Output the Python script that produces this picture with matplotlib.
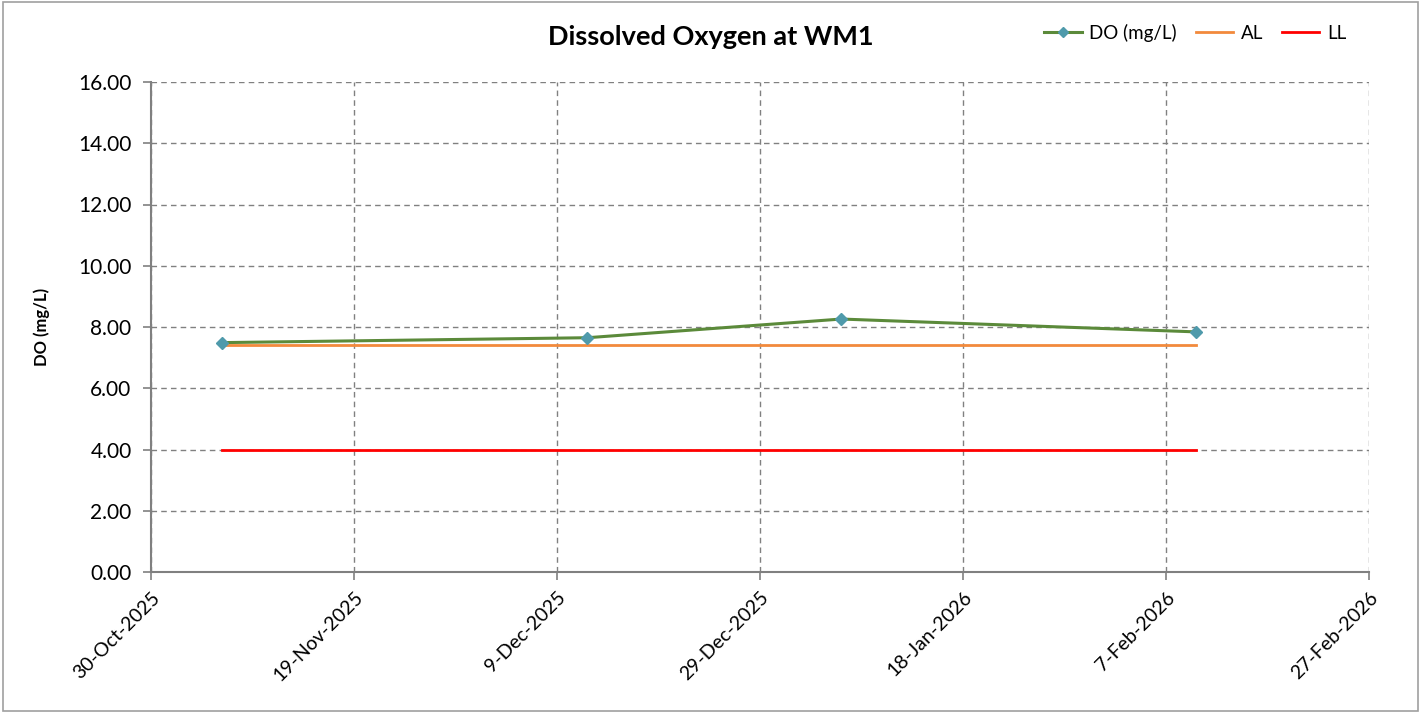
"""Dissolved oxygen at WM1 against action and limit levels."""

from datetime import datetime, timedelta

import matplotlib.dates as mdates
import matplotlib.pyplot as plt
from matplotlib.patches import Rectangle

plt.rcParams["font.family"] = ["Lato", "DejaVu Sans"]

sample_dates = ["2025-11-06", "2025-12-12", "2026-01-06", "2026-02-10"]
do_mg_l = [7.49, 7.65, 8.26, 7.84]
action_level = [7.4, 7.4, 7.4, 7.4]
limit_level = [4.0, 4.0, 4.0, 4.0]

x_start = "2025-10-30"
x_stop = "2026-02-27"
tick_step_days = 20
y_ticks = [0, 2, 4, 6, 8, 10, 12, 14, 16]


def main() -> None:
    dates = [datetime.strptime(d, "%Y-%m-%d") for d in sample_dates]
    start = datetime.strptime(x_start, "%Y-%m-%d")
    stop = datetime.strptime(x_stop, "%Y-%m-%d")
    ticks = []
    current = start
    while current <= stop:
        ticks.append(current)
        current += timedelta(days=tick_step_days)

    fig = plt.figure(figsize=(14.21, 7.13), dpi=100)
    ax = fig.add_axes([151 / 1421, 1 - 572 / 713, 1218 / 1421, 490 / 713])

    ax.plot(dates, action_level, color="#f28a3c", linewidth=2, label="AL", zorder=2)
    ax.plot(dates, limit_level, color="#ff0000", linewidth=2, label="LL", zorder=2)
    ax.plot(
        dates,
        do_mg_l,
        color="#5b8a3a",
        linewidth=2.2,
        marker="D",
        markersize=6,
        markerfacecolor="#4f9aab",
        markeredgecolor="#4f9aab",
        label="DO (mg/L)",
        zorder=3,
    )

    ax.set_xlim(start, stop)
    ax.set_ylim(0, 16)
    ax.set_xticks(ticks)
    ax.xaxis.set_major_formatter(
        plt.FuncFormatter(lambda v, _: mdates.num2date(v).strftime("%-d-%b-%Y"))
    )
    ax.set_yticks(y_ticks)
    ax.set_yticklabels([f"{v:.2f}" for v in y_ticks])
    for label in ax.get_xticklabels():
        label.set_rotation(45)
        label.set_ha("right")
        label.set_rotation_mode("anchor")

    ax.tick_params(axis="both", labelsize=14, color="#808080", length=6, width=1.2)
    ax.tick_params(axis="y", labelsize=15, pad=8)
    ax.tick_params(axis="x", pad=6)
    ax.grid(True, color="#808080", linestyle=(0, (4, 3)), linewidth=1)
    ax.set_axisbelow(True)
    for side in ("top", "right"):
        ax.spines[side].set_visible(False)
    for side in ("left", "bottom"):
        ax.spines[side].set_color("#808080")
        ax.spines[side].set_linewidth(1.5)

    ax.set_ylabel("DO (mg/L)", fontsize=12, fontweight="bold", labelpad=20)
    fig.text(0.5, 1 - 37 / 713, "Dissolved Oxygen at WM1", fontsize=19.5,
             fontweight="bold", ha="center", va="center")

    handles, labels = ax.get_legend_handles_labels()
    order = [2, 0, 1]
    fig.legend(
        [handles[i] for i in order],
        [labels[i] for i in order],
        loc="center right",
        bbox_to_anchor=(1363 / 1421, 1 - 33 / 713),
        ncol=3,
        frameon=False,
        fontsize=13.5,
        handlelength=2.0,
        handletextpad=0.4,
        columnspacing=1.0,
        markerscale=0.8,
    )

    fig.patches.append(
        Rectangle((0.002, 0.003), 0.996, 0.994, transform=fig.transFigure,
                  fill=False, edgecolor="#a0a0a0", linewidth=1.2)
    )
    fig.savefig("out.png", dpi=100)
    plt.close(fig)


if __name__ == "__main__":
    main()
